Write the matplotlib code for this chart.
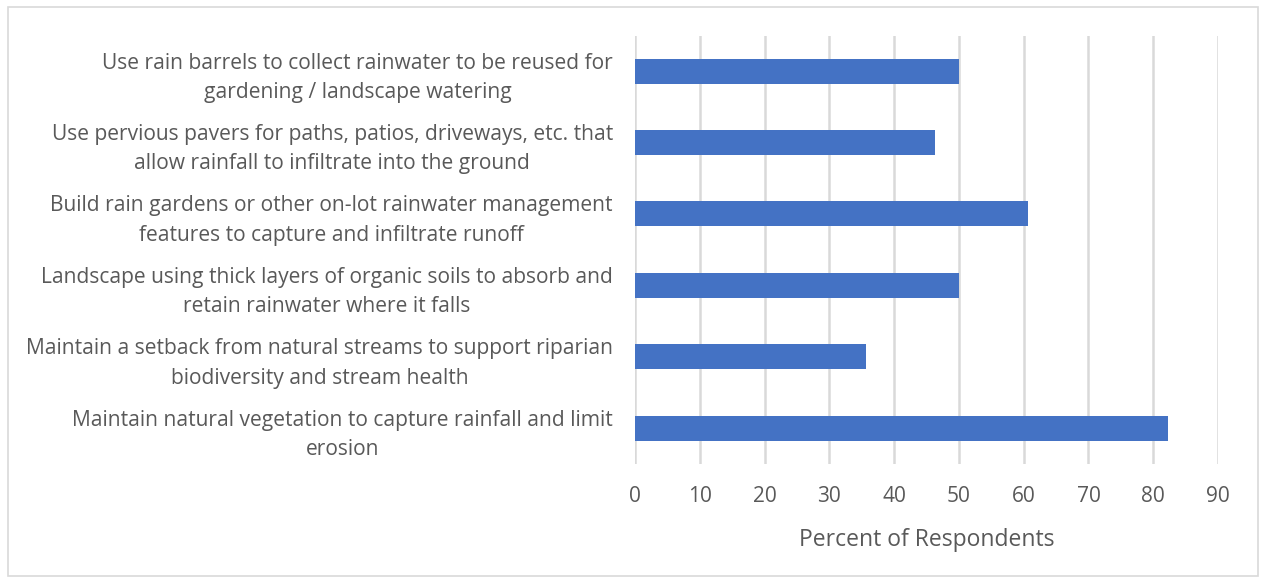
import matplotlib.pyplot as plt
from matplotlib.patches import Rectangle

plt.rcParams['font.family'] = ['Open Sans', 'DejaVu Sans']

# practices, top to bottom as shown
practices = [
    "Use rain barrels to collect rainwater to be reused for\ngardening / landscape watering",
    "Use pervious pavers for paths, patios, driveways, etc. that\nallow rainfall to infiltrate into the ground",
    "Build rain gardens or other on-lot rainwater management\nfeatures to capture and infiltrate runoff",
    "Landscape using thick layers of organic soils to absorb and\nretain rainwater where it falls",
    "Maintain a setback from natural streams to support riparian\nbiodiversity and stream health",
    "Maintain natural vegetation to capture rainfall and limit\nerosion",
]
percent = [50.0, 46.3, 60.7, 50.0, 35.6, 82.2]
xticks = [0, 10, 20, 30, 40, 50, 60, 70, 80, 90]

text_color = "#595959"
grid_color = "#d9d9d9"

fig = plt.figure(figsize=(12.63, 5.79), dpi=100)
ax = fig.add_axes([0.5028, 0.199, 0.4616, 0.7396])

ypos = list(range(len(practices)))
ax.barh(ypos, percent, height=0.35, color="#4472C4", zorder=3)
ax.set_ylim(len(practices) - 0.5, -0.5)
ax.set_xlim(0, 90)
ax.set_xticks(xticks)
ax.set_yticks(ypos)
ax.set_yticklabels(practices, fontsize=15.1, color=text_color, linespacing=1.52)
ax.tick_params(axis='x', colors=text_color, labelsize=15, length=0, pad=16)
ax.tick_params(axis='y', length=0, pad=16)
for lbl in ax.get_yticklabels():
    lbl.set_horizontalalignment('right')
    lbl.set_multialignment('center')

ax.xaxis.grid(True, color=grid_color, linewidth=1.8, zorder=0)
for s in ax.spines.values():
    s.set_visible(False)

ax.set_xlabel("Percent of Respondents", fontsize=16.5, color=text_color, labelpad=15)

# outer chart border
fig.patches.append(Rectangle((8 / 1263, 3 / 579), 1250 / 1263, 569 / 579,
                             transform=fig.transFigure, fill=False,
                             edgecolor="#d9d9d9", linewidth=1.2))

fig.savefig("out.png", dpi=100)
